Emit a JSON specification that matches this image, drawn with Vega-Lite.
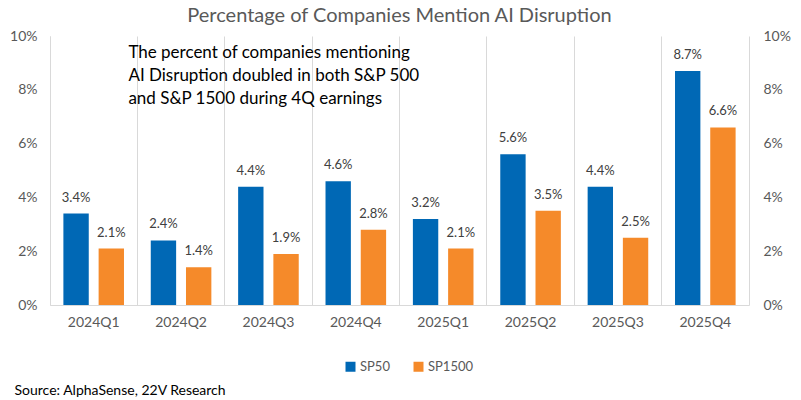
{
  "$schema": "https://vega.github.io/schema/vega-lite/v6.json",
  "width": 699,
  "height": 269,
  "autosize": {"type": "none"},
  "padding": {"left": 50, "top": 36, "right": 52, "bottom": 95},
  "background": "white",
  "config": {
    "font": "Lato",
    "view": {"stroke": null},
    "axis": {"labelFont": "Lato", "titleFont": "Lato"}
  },
  "title": {
    "text": "Percentage of Companies Mention AI Disruption",
    "fontSize": 20,
    "font": "Lato",
    "fontWeight": "normal",
    "color": "#595959",
    "anchor": "middle",
    "offset": 3
  },
  "datasets": {
    "bars": [
      {"quarter": "2024Q1", "series": "SP50", "value": 0.034},
      {"quarter": "2024Q1", "series": "SP1500", "value": 0.021},
      {"quarter": "2024Q2", "series": "SP50", "value": 0.024},
      {"quarter": "2024Q2", "series": "SP1500", "value": 0.014},
      {"quarter": "2024Q3", "series": "SP50", "value": 0.044},
      {"quarter": "2024Q3", "series": "SP1500", "value": 0.019},
      {"quarter": "2024Q4", "series": "SP50", "value": 0.046},
      {"quarter": "2024Q4", "series": "SP1500", "value": 0.028},
      {"quarter": "2025Q1", "series": "SP50", "value": 0.032},
      {"quarter": "2025Q1", "series": "SP1500", "value": 0.021},
      {"quarter": "2025Q2", "series": "SP50", "value": 0.056},
      {"quarter": "2025Q2", "series": "SP1500", "value": 0.035},
      {"quarter": "2025Q3", "series": "SP50", "value": 0.044},
      {"quarter": "2025Q3", "series": "SP1500", "value": 0.025},
      {"quarter": "2025Q4", "series": "SP50", "value": 0.087},
      {"quarter": "2025Q4", "series": "SP1500", "value": 0.066}
    ],
    "note": [
      {"quarter": "2024Q2", "y": 0.0918, "text": ["The percent of companies mentioning", "AI Disruption  doubled  in both S&P 500", "and S&P 1500 during 4Q earnings"]}
    ]
  },
  "layer": [
    {
      "data": {"name": "bars"},
      "mark": {"type": "bar"},
      "encoding": {
        "x": {
          "field": "quarter", "type": "nominal", "sort": null,
          "scale": {"paddingInner": 0, "paddingOuter": 0},
          "axis": {
            "title": "Source: AlphaSense, 22V Research",
            "titleAnchor": "start",
            "titleAlign": "left",
            "titleX": -36,
            "titleY": 78,
            "titleFontSize": 14,
            "titleFontWeight": "normal",
            "titleColor": "#000000",
            "titleBaseline": "top",
            "labelAngle": 0,
            "labelFontSize": 14,
            "labelColor": "#595959",
            "labelPadding": 10,
            "ticks": false,
            "grid": true,
            "gridColor": "#d9d9d9",
            "bandPosition": 0,
            "domainColor": "#d9d9d9"
          }
        },
        "xOffset": {
          "field": "series", "type": "nominal", "sort": ["SP50", "SP1500"],
          "scale": {"paddingInner": 0.28, "paddingOuter": 0.38}
        },
        "y": {
          "field": "value", "type": "quantitative",
          "scale": {"domain": [0, 0.1], "nice": false},
          "axis": {
            "title": null,
            "format": ".0%",
            "values": [0, 0.02, 0.04, 0.06, 0.08, 0.1],
            "grid": false,
            "ticks": false,
            "labelFontSize": 14,
            "labelColor": "#595959",
            "labelPadding": 13,
            "domainColor": "#d9d9d9",
            "orient": "left"
          }
        },
        "color": {
          "field": "series", "type": "nominal",
          "sort": ["SP50", "SP1500"],
          "scale": {"domain": ["SP50", "SP1500"], "range": ["#0068B5", "#F58A2A"]},
          "legend": {
            "title": null,
            "orient": "none",
            "direction": "horizontal",
            "legendX": 294,
            "legendY": 324,
            "symbolType": "square",
            "symbolSize": 100,
            "symbolStrokeWidth": 0,
            "labelFontSize": 13,
            "labelColor": "#595959",
            "columnPadding": 22,
            "labelOffset": 3
          }
        }
      }
    },
    {
      "data": {"name": "bars"},
      "mark": {"type": "text", "baseline": "bottom", "dy": -9, "fontSize": 13, "color": "#404040"},
      "encoding": {
        "x": {"field": "quarter", "type": "nominal", "sort": null},
        "xOffset": {"field": "series", "type": "nominal", "sort": ["SP50", "SP1500"]},
        "y": {
          "field": "value", "type": "quantitative",
          "scale": {"domain": [0, 0.1], "nice": false},
          "axis": {
            "title": null,
            "format": ".0%",
            "values": [0, 0.02, 0.04, 0.06, 0.08, 0.1],
            "grid": false,
            "ticks": false,
            "labelFontSize": 14,
            "labelColor": "#595959",
            "labelPadding": 14,
            "domainColor": "#d9d9d9",
            "orient": "right"
          }
        },
        "text": {"field": "value", "type": "quantitative", "format": ".1%"}
      }
    },
    {
      "data": {"name": "note"},
      "mark": {"type": "text", "align": "left", "baseline": "alphabetic", "fontSize": 17, "color": "#000000", "lineHeight": 23, "dx": -9},
      "encoding": {
        "x": {"field": "quarter", "type": "nominal", "sort": null, "bandPosition": 0},
        "y": {"field": "y", "type": "quantitative", "scale": {"domain": [0, 0.1], "nice": false}, "axis": null},
        "text": {"field": "text"}
      }
    }
  ],
  "resolve": {"scale": {"y": "independent"}}
}
